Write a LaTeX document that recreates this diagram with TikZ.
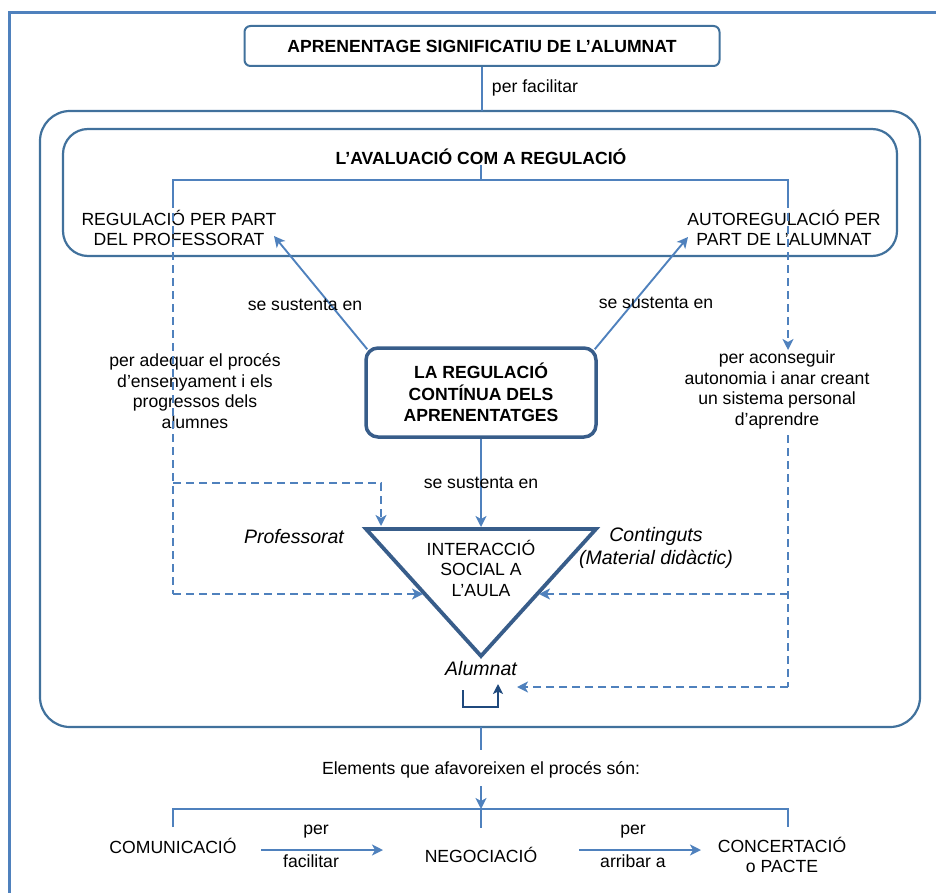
\documentclass[tikz,border=0pt]{standalone}
\usepackage{fontspec}
\setmainfont{Liberation Sans}
\usetikzlibrary{arrows.meta,calc}
\definecolor{lineblue}{HTML}{4F81BD}
\definecolor{boxblue}{HTML}{41719C}
\definecolor{darkblue}{HTML}{385D8A}
\definecolor{navyblue}{HTML}{1F497D}
\begin{document}
\begin{tikzpicture}[x=1pt,y=-1pt,
  every node/.style={font=\fontsize{17.6}{20.5}\selectfont, inner sep=0pt, align=center},
  bft/.style={font=\fontsize{17.6}{21.5}\selectfont\bfseries},
  itf/.style={font=\fontsize{19.5}{23}\selectfont\itshape},
  ln/.style={draw=lineblue, line width=1.9pt},
  tip/.style={-{Stealth[length=11pt,width=11pt,inset=3pt]}},
  arr/.style={ln, tip},
  dln/.style={ln, dash pattern=on 8pt off 5pt},
  darr/.style={dln, tip},
  frame/.style={draw=lineblue, line width=3pt},
  rbox/.style={draw=boxblue, line width=2pt, rounded corners=6pt},
  bigbox/.style={draw=boxblue, line width=2.2pt},
  thickbox/.style={draw=darkblue, line width=3.5pt, rounded corners=12pt},
  tri/.style={draw=darkblue, line width=3.8pt, line join=miter},
  loopln/.style={draw=navyblue, line width=2.5pt, -{Stealth[length=10pt,width=10pt,inset=2.5pt]}}
]
\useasboundingbox (0,0) rectangle (936,893);
% outer frame
\draw[frame] (9,893) -- (9,13) -- (936,13);

% top box
\node[rbox, bft, minimum width=475pt, minimum height=40pt] (top) at (482,46) {APRENENTAGE SIGNIFICATIU DE L’ALUMNAT};

% big box and inner box
\node[bigbox, rounded corners=30pt, minimum width=880pt, minimum height=616pt] (big) at (480,419) {};
\node[bigbox, rounded corners=25pt, minimum width=834pt, minimum height=127pt] (inner) at (480,192.5) {};

\coordinate (tb1) at (482,111);
\draw[ln] (top.south) -- (tb1);
\node (pf) at (535,88) {per facilitar};

\node[bft] (aval) at (481,157) {L’AVALUACIÓ COM A REGULACIÓ};
\coordinate (bm) at (481,180);
\coordinate (bL) at (173,180);
\coordinate (bR) at (788,180);
\coordinate (bL2) at (173,200);
\coordinate (bR2) at (788,200);
\draw[ln] (aval.south) -- (bm);
\draw[ln] (bL2) -- (bL) -- (bR) -- (bR2);

\node (regprof) at (179,228) {REGULACIÓ PER PART\\DEL PROFESSORAT};
\node (autoreg) at (784,228) {AUTOREGULACIÓ PER\\PART DE L’ALUMNAT};

% central box
\node[thickbox, bft, minimum width=230pt, minimum height=89pt] (reg) at (481,392.5) {LA REGULACIÓ\\CONTÍNUA DELS\\APRENENTATGES};

\coordinate (ptip) at (274,236);
\coordinate (atip) at (688,237);
\draw[arr] ([shift={(3,3)}]reg.north west) -- (ptip);
\draw[arr] ([shift={(-3,3)}]reg.north east) -- (atip);
\node (s1) at (305,305) {se sustenta en};
\node (s2) at (656,303) {se sustenta en};

\node (adeq) at (195,391) {per adequar el procés\\d’ensenyament i els\\progressos dels\\alumnes};
\node (acons) at (777,390) {per aconseguir\\autonomia i anar creant\\un sistema personal\\d’aprendre};

% triangle
\coordinate (tl) at (366,529);
\coordinate (tr) at (596,529);
\coordinate (tbot) at (481,656);
\draw[tri] (tl) -- (tr) -- (tbot) -- cycle;
\node (inter) at (481,568) {INTERACCIÓ\\SOCIAL A\\L’AULA};
\node[itf] (prof) at (294,537) {Professorat};
\node[itf] (cont) at (656,548) {Continguts\\(Material didàctic)};
\node[itf] (alum) at (481,669) {Alumnat};

\coordinate (ttop) at (481,527);
\draw[arr] (reg.south) -- (ttop);
\node (s3) at (481,483) {se sustenta en};

% left dashed connectors
\coordinate (dL1) at (173,483);
\coordinate (dL2) at (173,594);
\coordinate (dT1) at (381,483);
\coordinate (dT2) at (381,526);
\coordinate (lhit) at (423,594);
\draw[dln] (bL2) -- (dL2);
\draw[darr] (dL2) -- (lhit);
\draw[darr] (dL1) -- (dT1) -- (dT2);

% right dashed connectors
\coordinate (dRa) at (788,350);
\coordinate (dRb) at (788,435);
\coordinate (dRc) at (788,594);
\coordinate (dRd) at (788,687);
\coordinate (rhit) at (539,594);
\coordinate (ahit) at (517,687);
\draw[darr] (bR2) -- (dRa);
\draw[dln] (dRb) -- (dRd);
\draw[darr] (dRd) -- (ahit);
\draw[darr] (dRc) -- (rhit);

% loop under Alumnat
\coordinate (lp1) at (463,690);
\coordinate (lp2) at (463,707);
\coordinate (lp3) at (498,707);
\coordinate (lp4) at (498,684);
\draw[loopln] (lp1) -- (lp2) -- (lp3) -- (lp4);

% bottom part
\node (elem) at (481,770) {Elements que afavoreixen el procés són:};
\coordinate (e0) at (481,727);
\coordinate (e1) at (481,750);
\coordinate (e2) at (481,786);
\coordinate (hm) at (481,809);
\coordinate (hL) at (173,809);
\coordinate (hR) at (788,809);
\draw[ln] (e0) -- (e1);
\draw[arr] (e2) -- (hm);
\draw[ln] (173,827) -- (hL) -- (hR) -- (788,827);
\draw[ln] (hm) -- (481,828);

\node (com) at (173,846) {COMUNICACIÓ};
\node (neg) at (481,855) {NEGOCIACIÓ};
\node (conc) at (782,855) {CONCERTACIÓ\\o PACTE};

\coordinate (a1s) at (261,850);
\coordinate (a1e) at (383,850);
\coordinate (a2s) at (579,850);
\coordinate (a2e) at (701,850);
\draw[arr] (a1s) -- (a1e);
\draw[arr] (a2s) -- (a2e);
\node (p1) at (316,832) {per};
\node (f1) at (311,861) {facilitar};
\node (p2) at (633,832) {per};
\node (f2) at (633,861) {arribar a};
\end{tikzpicture}
\end{document}
